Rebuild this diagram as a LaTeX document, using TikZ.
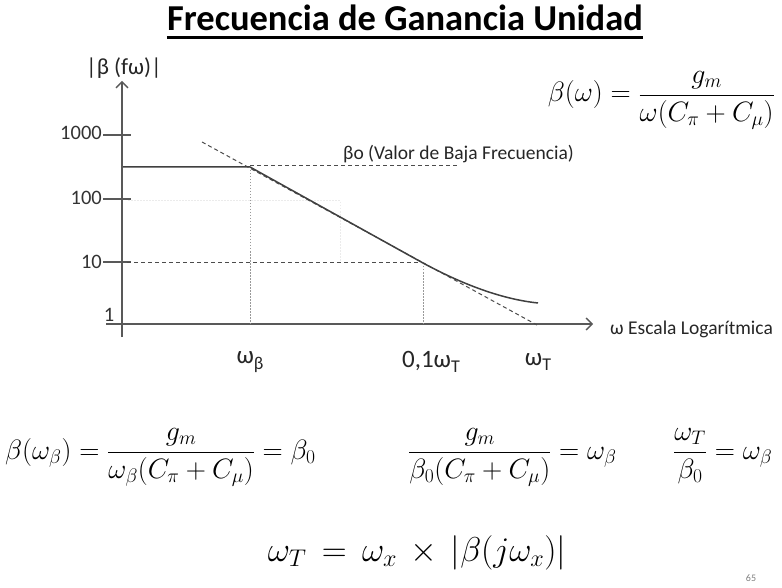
\RequirePackage{fix-cm}
\documentclass[tikz,border=0pt]{standalone}
\usepackage{amsmath}
\usepackage{fontspec}
\setmainfont{Carlito}
\usetikzlibrary{arrows.meta}
\newcommand\lsub[1]{\raisebox{-0.45ex}{\fontsize{18}{18}\selectfont #1}}
\begin{document}
\begin{tikzpicture}[x=1pt,y=-1pt,
  axis/.style={draw=black!65,line width=1.6pt},
  tickl/.style={draw=black!65,line width=1.3pt},
  numl/.style={font=\fontsize{20.5}{22}\selectfont,text=black!80,inner sep=0pt},
  wl/.style={font=\fontsize{25}{28}\selectfont,text=black!85,inner sep=0pt},
  smalll/.style={font=\fontsize{19.5}{21}\selectfont,text=black!85,inner sep=0pt},
  mathf/.style={font=\fontsize{28}{32}\selectfont,inner sep=0pt},
  mathb/.style={font=\fontsize{34.5}{38}\selectfont,inner sep=0pt},
  guide/.style={draw=black!40,line width=1pt,dash pattern=on 1.5pt off 1.5pt},
  faint/.style={draw=black!8,line width=1pt,dash pattern=on 1.5pt off 1.5pt},
  dashl/.style={draw=black!70,line width=1pt,dash pattern=on 4pt off 3pt},
  curvel/.style={draw=black!75,line width=1.5pt},
  tip/.style={-{Straight Barb[length=6pt,width=12pt,line width=1.4pt]}}]
\useasboundingbox (0,0) rectangle (782,588);
\fill[white] (0,0) rectangle (782,588);

% title
\node[font=\fontsize{36.5}{40}\selectfont\bfseries,anchor=base,inner sep=0pt] (title) at (405,31) {Frecuencia de Ganancia Unidad};
\draw[line width=2.6pt] ([yshift=-6.5pt]title.base west) -- ([yshift=-6.5pt]title.base east);

% axes
\coordinate (ybot) at (122,337);
\coordinate (ytop) at (122,81);
\coordinate (xl) at (106,324);
\coordinate (xr) at (593,324);
\draw[axis,tip] (ybot) -- (ytop);
\draw[axis,tip] (xl) -- (xr);
\node[font=\fontsize{23}{24}\selectfont,text=black!85,inner sep=0pt] (ylab) at (124,68) {|β (fω)|};
\node[smalll,anchor=west] (xlab) at (610,329) {ω Escala Logarítmica};

% ticks
\coordinate (t1a) at (103,135); \coordinate (t1b) at (131,135);
\coordinate (t2a) at (103,199); \coordinate (t2b) at (131,199);
\coordinate (t3a) at (103,262); \coordinate (t3b) at (131,262);
\draw[tickl] (t1a) -- (t1b);
\draw[tickl] (t2a) -- (t2b);
\draw[tickl] (t3a) -- (t3b);
\node[numl,anchor=east] (n1000) at (102,133) {1000};
\node[numl,anchor=east] (n100) at (102,198) {100};
\node[numl,anchor=east] (n10) at (102,262) {10};
\node[numl] (n1) at (109,315) {1};

% faint guide lines
\coordinate (f1) at (128,201); \coordinate (f2) at (340,201); \coordinate (f3) at (340,262);
\draw[faint] (f1) -- (f2) -- (f3);

% key points
\coordinate (pstart) at (123,167);
\coordinate (pb) at (250,167);
\coordinate (pbd) at (250,166);
\coordinate (pend) at (457,166);
\coordinate (a1) at (202,142);
\coordinate (a2) at (537,325);
\coordinate (pt) at (423,263);
\coordinate (c1) at (460,283);
\coordinate (c2) at (500,299);
\coordinate (cend) at (538,303);
\coordinate (h10) at (127,263);
\coordinate (bx) at (250,324);
\coordinate (tx) at (423,324);

% guides
\draw[guide] (pb) -- (bx);
\draw[guide] (pt) -- (tx);
\draw[dashl] (h10) -- (pt);
\draw[dashl] (pbd) -- (pend);
\draw[dashl] (a1) -- (a2);

% response
\draw[curvel] (pstart) -- (pb) -- (pt) .. controls (c1) and (c2) .. (cend);

\node[smalll,anchor=west] (b0) at (343,154) {βo (Valor de Baja Frecuencia)};

% x labels
\node[wl] (wb) at (250,362) {ω\lsub{β}};
\node[wl] (w01) at (431,362) {0,1ω\lsub{T}};
\node[wl] (wt) at (538,362) {ω\lsub{T}};

% formulas
\node[mathf,anchor=base east] (f0) at (775,102) {$\beta(\omega) = \dfrac{g_m}{\omega(C_\pi + C_\mu)}$};
\node[mathf,anchor=base west] (fa) at (5,459) {$\beta(\omega_\beta) = \dfrac{g_m}{\omega_\beta(C_\pi + C_\mu)} = \beta_0$};
\node[mathf,anchor=base west] (fb) at (408,459) {$\dfrac{g_m}{\beta_0(C_\pi + C_\mu)} = \omega_\beta$};
\node[mathf,anchor=base west] (fc) at (673,459) {$\dfrac{\omega_T}{\beta_0} = \omega_\beta$};
\node[mathb,anchor=base] (fd) at (417,561) {$\omega_T \,=\, \omega_x \,\times\, |\beta(j\omega_x)|$};

\node[font=\fontsize{10}{12}\selectfont,text=black!50,inner sep=0pt] (pg) at (751,578) {65};
\end{tikzpicture}
\end{document}
